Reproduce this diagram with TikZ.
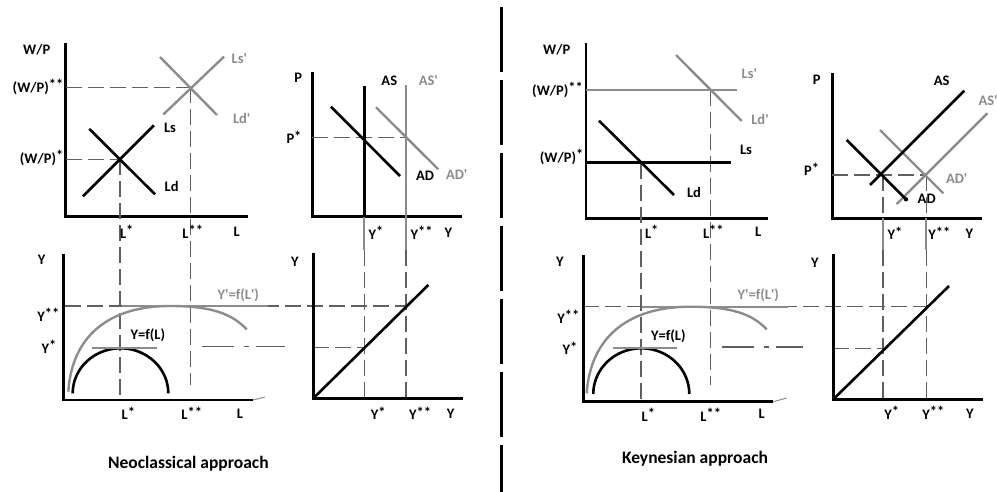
\documentclass[tikz,border=0pt]{standalone}
\usepackage{fontspec}
\setmainfont{Carlito}
\newcommand\pq{\textquotesingle}
\newcommand\st{\raisebox{0.2em}{*}}
\definecolor{cgray}{RGB}{140,140,140}
\definecolor{dgray}{RGB}{95,95,95}
\begin{document}
\begin{tikzpicture}[x=1pt,y=-1pt,
  axis/.style={line width=2.8pt,black},
  blk/.style={line width=2.6pt,black},
  gry/.style={line width=2.4pt,cgray},
  guide/.style={line width=1.3pt,dgray,dash pattern=on 16pt off 6pt},
  dashdot/.style={line width=1.3pt,dgray,dash pattern=on 32pt off 10pt on 5pt off 7pt},
  lab/.style={font=\fontsize{14.5}{16}\selectfont\bfseries,inner sep=0pt,text=black},
  glab/.style={lab,text=cgray},
  captxt/.style={font=\fontsize{17.5}{20}\selectfont\bfseries,inner sep=0pt}]
\useasboundingbox (0,0) rectangle (997,492);

% ================= LEFT HALF =================
% --- top-left: labour market
\coordinate (a1t) at (65.7,42.7); \coordinate (a1o) at (65.7,216.7); \coordinate (a1r) at (248,216.7);
\draw[axis] (a1t) -- (a1o) -- (a1r);
\coordinate (e1) at (120,159.3); \coordinate (e2) at (190.7,87.3);
\coordinate (ls1) at (83,196.3); \coordinate (ls2) at (154,125.3);
\coordinate (ld1) at (89.3,128.9); \coordinate (ld2) at (155,194.3);
\coordinate (lsp1) at (163.3,114.5); \coordinate (lsp2) at (224,56.7);
\coordinate (ldp1) at (160,57); \coordinate (ldp2) at (217,115);
\draw[guide] (65.7,87.3) -- (e2);
\draw[guide] (65.7,159.3) -- (e1);
\draw[guide] (e1) -- (120,398);
\draw[guide] (e2) -- (190.7,385);
\draw[blk] (ls1) -- (ls2);
\draw[blk] (ld1) -- (ld2);
\draw[gry] (lsp1) -- (lsp2);
\draw[gry] (ldp1) -- (ldp2);
\node[lab] (wpL) at (36.7,50) {W/P};
\node[lab,anchor=east] (wpssL) at (63.5,87.3) {(W/P)\st\st};
\node[lab,anchor=east] (wpsL) at (63.5,158.3) {(W/P)\st};
\node[lab] (lsL) at (170,128) {Ls};
\node[lab] (ldL) at (171.7,186.7) {Ld};
\node[glab] (lspL) at (239.3,58.3) {Ls\pq};
\node[glab] (ldpL) at (241.7,118.3) {Ld\pq};
\node[lab] (lstarL) at (126.7,231.7) {L\st};
\node[lab] (lsstarL) at (192.7,231.7) {L\st\st};
\node[lab] (lL) at (236.7,231.7) {L};

% --- top-right: AS/AD
\coordinate (b1t) at (312.3,71.7); \coordinate (b1o) at (312.3,216.7); \coordinate (b1r) at (461.7,216.7);
\draw[axis] (b1t) -- (b1o) -- (b1r);
\coordinate (as1) at (364.3,86); \coordinate (as2) at (364.3,216.7); \coordinate (as3) at (364.3,250);
\coordinate (asp1) at (406,85); \coordinate (asp2) at (406,250);
\draw[guide] (312.3,137.3) -- (406,137.3);
\draw[gry,line width=2pt] (as2) -- (as3);
\draw[guide] (as3) -- (364.3,398.3);
\draw[guide] (asp2) -- (406,398.3);
\draw[gry,line width=2pt] (asp1) -- (asp2);
\draw[blk] (as1) -- (as2);
\draw[blk] (331,106.7) coordinate (ad1) -- (400,176) coordinate (ad2);
\draw[gry] (376,107.3) coordinate (adp1) -- (438.3,169.3) coordinate (adp2);
\node[lab] (pL) at (298.3,78.3) {P};
\node[lab] (asL) at (389.3,80.7) {AS};
\node[glab] (aspL) at (428.3,80.7) {AS\pq};
\node[lab] (adL) at (425,176) {AD};
\node[glab] (adpL) at (456.7,175) {AD\pq};
\node[lab] (psL) at (294,137.3) {P\st};
\node[lab] (ysL) at (376,232.7) {Y\st};
\node[lab] (yssL) at (421.7,232.7) {Y\st\st};
\node[lab] (yL) at (448.3,232.7) {Y};

% --- bottom-left: production function
\coordinate (c1t) at (63.3,254); \coordinate (c1o) at (63.3,400); \coordinate (c1r) at (253.3,400);
\draw[guide] (65,306) -- (406,306);
\draw[cgray,line width=1.6pt] (122,306) -- (268,306);
\draw[dashdot] (201.7,346.5) -- (285,346.5);
\draw[guide] (313.3,347.3) -- (364.3,347.3);
\draw[gry] (68.3,391.7) .. controls (72,335) and (110,306) .. (170,306) .. controls (212,306) and (232,314) .. (246.7,329.3);
\draw[blk] plot[domain=180:0,samples=60] ({120.5+47.8*cos(\x)},{393.3-45*sin(\x)});
\draw[cgray,line width=1.8pt] (91.7,348.3) -- (156.7,348.3);
\draw[axis] (c1t) -- (c1o) -- (c1r);
\draw[cgray,line width=1pt] (c1r) -- (265,397);
\node[lab] (yaxL) at (41.7,260) {Y};
\node[lab] (yssyL) at (48.3,315) {Y\st\st};
\node[lab] (ysyL) at (49,346.7) {Y\st};
\node[lab] (yfL) at (147.8,335.7) {Y=f(L)};
\node[glab] (ypfL) at (238.3,295) {Y\pq=f(L\pq)};
\node[lab] (lstarbL) at (128.3,413.3) {L\st};
\node[lab] (lsstarbL) at (191.7,413.3) {L\st\st};
\node[lab] (lbL) at (240,413.3) {L};

% --- bottom-right: 45 degree line
\coordinate (d1t) at (313.3,252.7); \coordinate (d1o) at (313.3,398.3); \coordinate (d1r) at (462.7,398.3);
\draw[axis] (d1t) -- (d1o) -- (d1r);
\draw[blk] (d1o) -- (428.3,285) coordinate (d1e);
\node[lab] (yaxdL) at (295,261.7) {Y};
\node[lab] (ysdL) at (378.3,413.3) {Y\st};
\node[lab] (yssdL) at (420,413.3) {Y\st\st};
\node[lab] (ydL) at (450.7,413.3) {Y};

\node[captxt] (capL) at (188.3,464) {Neoclassical approach};

% ================= DIVIDER =================
\coordinate (dv1) at (501.7,7); \coordinate (dv2) at (501.7,492);
\draw[line width=2.5pt,black,dash pattern=on 65pt off 8pt] (dv1) -- (dv2);

% ================= RIGHT HALF =================
% --- top-left: labour market
\coordinate (a2t) at (586,43.3); \coordinate (a2o) at (586,218.3); \coordinate (a2r) at (768.3,218.3);
\draw[axis] (a2t) -- (a2o) -- (a2r);
\coordinate (f1) at (641,162.7); \coordinate (f2) at (710.7,90);
\draw[guide] (f1) -- (641,401);
\draw[guide] (f2) -- (710.7,385);
\draw[gry] (586,90) -- (736.7,90);
\draw[gry] (676,55) -- (741.7,121);
\draw[blk] (586,162.7) -- (731,162.7);
\draw[blk] (599,120.7) -- (674,195);
\node[lab] (wpR) at (556.7,50) {W/P};
\node[lab,anchor=east] (wpssR) at (583,90) {(W/P)\st\st};
\node[lab,anchor=east] (wpsR) at (583.5,156.7) {(W/P)\st};
\node[glab] (lspR) at (749.3,73.3) {Ls\pq};
\node[glab] (ldpR) at (760,119.3) {Ld\pq};
\node[lab] (lsR) at (746,150) {Ls};
\node[lab] (ldR) at (694,192.3) {Ld};
\node[lab] (lstarR) at (651.7,231.7) {L\st};
\node[lab] (lsstarR) at (713.3,231.7) {L\st\st};
\node[lab] (lR) at (758.3,231.7) {L};

% --- top-right: AS/AD
\coordinate (b2t) at (832.3,73.3); \coordinate (b2o) at (832.3,218.3); \coordinate (b2r) at (981.7,218.3);
\draw[axis] (b2t) -- (b2o) -- (b2r);
\draw[guide] (832.3,175) -- (926.3,175);
\draw[guide] (883,175) -- (883,218.3);
\draw[cgray,line width=2pt] (883,218.3) -- (883,250);
\draw[guide] (883,250) -- (883,399.3);
\draw[guide] (926.3,175) -- (926.3,218.3);
\draw[cgray,line width=2pt] (926.3,218.3) -- (926.3,250);
\draw[guide] (926.3,250) -- (926.3,399.3);
\draw[gry] (896.7,204) -- (987.3,113.3);
\draw[gry] (880,130) -- (943.3,193.3);
\draw[blk] (870,185) -- (964.3,90.7);
\draw[blk] (846.7,140) -- (906,199.3) coordinate (adR2);
\fill[black] (adR2) circle[radius=2.2pt];
\node[lab] (pR) at (816.7,80) {P};
\node[lab] (asR) at (941.7,80.7) {AS};
\node[glab,anchor=west] (aspR) at (978.3,100.7) {AS\pq};
\node[lab] (adR) at (926.7,198.3) {AD};
\node[glab] (adpR) at (956.7,178.3) {AD\pq};
\node[lab] (psR) at (811.7,169.3) {P\st};
\node[lab] (ysR) at (895,233.3) {Y\st};
\node[lab] (yssR) at (939.3,233.3) {Y\st\st};
\node[lab] (yR) at (969.3,233.3) {Y};

% --- bottom-left: production function
\coordinate (c2t) at (583.3,255); \coordinate (c2o) at (583.3,401.7); \coordinate (c2r) at (773.3,401.7);
\draw[guide] (583.3,306.7) -- (926.3,306.7);
\draw[cgray,line width=1.6pt] (642,306.7) -- (788,306.7);
\draw[dashdot] (721.7,347) -- (803.3,347);
\draw[guide] (833.3,348.3) -- (883,348.3);
\draw[gry] (586.7,393.3) .. controls (590.5,337) and (628.5,306.7) .. (690,306.7) .. controls (732,306.7) and (752,314) .. (766.7,329.3);
\draw[blk] plot[domain=180:0,samples=60] ({641.3+48*cos(\x)},{394-45.7*sin(\x)});
\draw[cgray,line width=1.8pt] (612.7,348.3) -- (676.7,348.3);
\draw[axis] (c2t) -- (c2o) -- (c2r);
\draw[cgray,line width=1pt] (c2r) -- (786.7,398);
\node[lab] (yaxR) at (560,261.7) {Y};
\node[lab] (yssyR) at (568.3,316.7) {Y\st\st};
\node[lab] (ysyR) at (570,348.3) {Y\st};
\node[lab] (yfR) at (668.3,336.7) {Y=f(L)};
\node[glab] (ypfR) at (758.3,295) {Y\pq=f(L\pq)};
\node[lab] (lstarbR) at (648.3,415) {L\st};
\node[lab] (lsstarbR) at (710.7,415) {L\st\st};
\node[lab] (lbR) at (761.7,413.3) {L};

% --- bottom-right: 45 degree line
\coordinate (d2t) at (833.3,254); \coordinate (d2o) at (833.3,399.3); \coordinate (d2r) at (983.3,399.3);
\draw[axis] (d2t) -- (d2o) -- (d2r);
\draw[blk] (d2o) -- (949,286) coordinate (d2e);
\node[lab] (yaxdR) at (815,262.7) {Y};
\node[lab] (ysdR) at (891.7,412.7) {Y\st};
\node[lab] (yssdR) at (933.3,412.7) {Y\st\st};
\node[lab] (ydR) at (970,414) {Y};

\node[captxt] (capR) at (695,459) {Keynesian approach};
\end{tikzpicture}
\end{document}
